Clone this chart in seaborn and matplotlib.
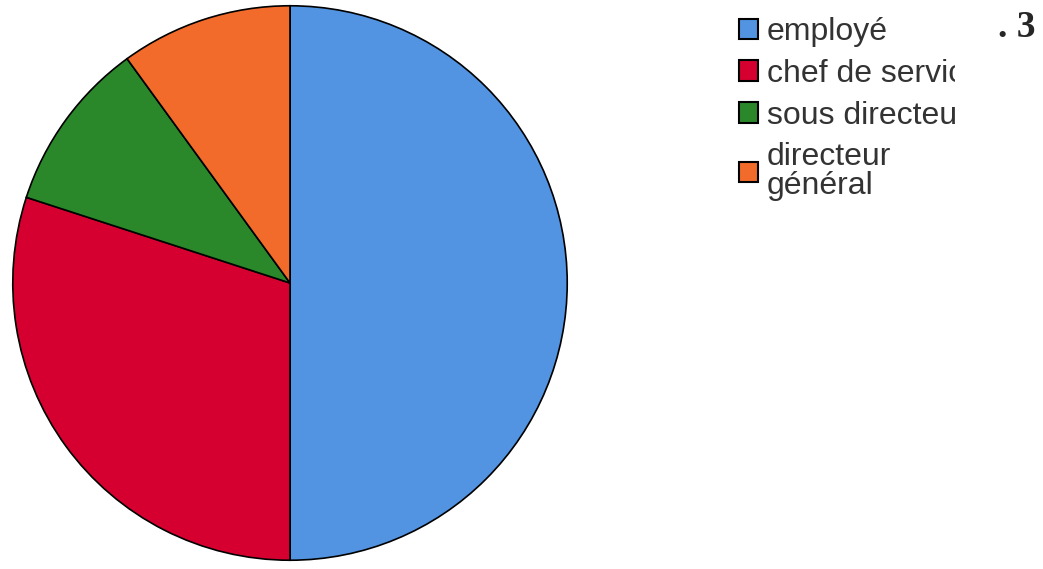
import matplotlib
matplotlib.use("Agg")
import matplotlib.pyplot as plt
import seaborn as sns
from matplotlib.patches import Patch, Rectangle

sns.set_theme(style="white")
plt.rcParams['font.family'] = ['Liberation Sans', 'DejaVu Sans']

categories = ["employé", "chef de service", "sous directeur", "directeur\ngénéral"]
values = [50, 30, 10, 10]
colors = ["#5294E2", "#D5002F", "#2A882A", "#F26B2B"]

W, H = 1043, 569
fig = plt.figure(figsize=(W / 100, H / 100), dpi=100)
ax = fig.add_axes([10 / W, 6 / H, 560 / W, 560 / H])
ax.pie(values, colors=colors, startangle=90, counterclock=False,
       wedgeprops=dict(edgecolor="black", linewidth=1.2), radius=1)
ax.set_xlim(-1.01, 1.01)
ax.set_ylim(-1.01, 1.01)
ax.set_aspect("equal")
ax.axis("off")

handles = [Patch(facecolor=c, edgecolor="black", linewidth=1.5) for c in colors]
leg = fig.legend(handles, categories, loc="upper left",
                 bbox_to_anchor=(739 / W, 1 - 17 / H), frameon=False,
                 fontsize=23, handlelength=0.6, handleheight=0.6,
                 handletextpad=0.27, labelspacing=0.37, borderaxespad=0,
                 borderpad=0)
for t in leg.get_texts():
    t.set_color("#333333")
    t.set_linespacing(0.95)

# the legend area is narrow in the original: long labels are cut off
fig.add_artist(Rectangle((955 / W, 1 - 220 / H), 40 / W, 220 / H,
                         transform=fig.transFigure, facecolor="white",
                         edgecolor="none", zorder=10))

fig.text(1036 / W, 1 - 37 / H, ". 3", ha="right", va="baseline",
         fontsize=27, fontweight="bold", family="Liberation Serif")

fig.savefig("out.png", dpi=100)
